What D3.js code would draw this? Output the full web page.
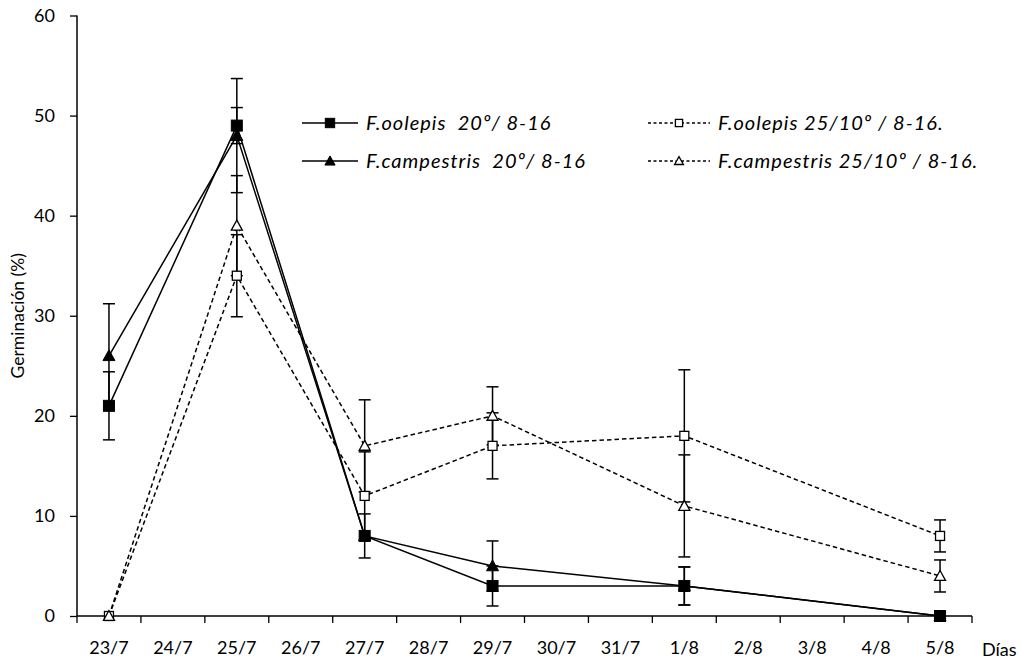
<!DOCTYPE html>
<html>
<head>
<meta charset="utf-8">
<script src="https://cdn.jsdelivr.net/npm/d3@7"></script>
<style>
  body { margin: 0; background: #fff; }
  svg { display: block; font-family: Lato, "Open Sans", sans-serif; }
</style>
</head>
<body>
<svg id="chart" width="1021" height="661"></svg>
<script>
// ---------- data ----------
const days = ['23/7', '24/7', '25/7', '26/7', '27/7', '28/7', '29/7', '30/7', '31/7', '1/8', '2/8', '3/8', '4/8', '5/8'];
const sampleDays = ['23/7', '25/7', '27/7', '29/7', '1/8', '5/8'];
const yTicks = [0, 10, 20, 30, 40, 50, 60];

const oolepis20 = [21, 49, 8, 3, 3, 0];
const oolepis20Err = [3.4, 1.8, 2.2, 2.0, 1.9, 0];
const campestris20 = [26, 48, 8, 5, 3, 0];
const campestris20Err = [5.2, 5.7, 0, 2.5, 1.9, 0];
const oolepis25 = [0, 34, 12, 17, 18, 8];
const oolepis25Err = [0, 4.1, 4.4, 3.3, 6.6, 1.6];
const campestris25 = [0, 39, 17, 20, 11, 4];
const campestris25Err = [0, 5.0, 4.6, 2.9, 5.1, 1.6];

const series = [
  { name: 'F.oolepis  20º/ 8-16', vals: oolepis20, err: oolepis20Err, marker: 'square', filled: true, dashed: false },
  { name: 'F.campestris  20º/ 8-16', vals: campestris20, err: campestris20Err, marker: 'triangle', filled: true, dashed: false },
  { name: 'F.oolepis 25/10º / 8-16.', vals: oolepis25, err: oolepis25Err, marker: 'square', filled: false, dashed: true },
  { name: 'F.campestris 25/10º / 8-16.', vals: campestris25, err: campestris25Err, marker: 'triangle', filled: false, dashed: true }
];

const svg = d3.select('#chart');
const m = { l: 77, r: 972, t: 15.5, b: 616 };
const FONT = 'Lato, sans-serif';

const x = d3.scaleBand().domain(days).range([m.l, m.r]).padding(0);
const y = d3.scaleLinear().domain([0, 60]).range([m.b, m.t]);
const cx = d => x(d) + x.bandwidth() / 2;

// ---------- axes ----------
const yAxis = svg.append('g').attr('transform', `translate(${m.l},0)`)
  .call(d3.axisLeft(y).tickValues(yTicks).tickSize(7).tickPadding(15));
yAxis.select('.domain').attr('stroke', '#000').attr('stroke-width', 1.5).attr('d', `M0,${m.t}V${m.b}`);
yAxis.selectAll('.tick line').attr('stroke', '#000').attr('stroke-width', 1.3);
yAxis.selectAll('.tick text').attr('font-size', 18).attr('fill', '#000').attr('font-family', FONT);

const xAxis = svg.append('g').attr('transform', `translate(0,${m.b})`)
  .call(d3.axisBottom(x).tickSize(0).tickPadding(25));
xAxis.select('.domain').attr('stroke', '#000').attr('stroke-width', 1.5).attr('d', `M${m.l},0H${m.r}`);
xAxis.selectAll('.tick text').attr('font-size', 18).attr('fill', '#000').attr('font-family', FONT);
// boundary ticks between categories
const bounds = days.map(d => x(d)).concat([x(days[days.length - 1]) + x.bandwidth()]);
xAxis.selectAll('line.bt').data(bounds).join('line').attr('class', 'bt')
  .attr('x1', d => d).attr('x2', d => d).attr('y1', 0).attr('y2', 7)
  .attr('stroke', '#000').attr('stroke-width', 1.3);

svg.append('text').attr('x', m.r + 10).attr('y', m.b + 40)
  .attr('font-size', 18).attr('font-family', FONT).text('Días');

svg.append('text')
  .attr('transform', `translate(24,${(m.t + m.b) / 2}) rotate(-90)`)
  .attr('text-anchor', 'middle').attr('font-size', 17.5).attr('font-family', FONT)
  .text('Germinación (%)');

// ---------- marks ----------
const line = d3.line().x(d => cx(d.day)).y(d => y(d.v));

function drawMarker(g, s, px, py, sc) {
  sc = sc === undefined ? 1 : sc;
  if (s.marker === 'square') {
    const h = (s.filled ? 5.5 : 4.5) * sc;
    g.append('rect').attr('x', px - h).attr('y', py - h).attr('width', 2 * h).attr('height', 2 * h)
      .attr('fill', s.filled ? '#000' : '#fff').attr('stroke', '#000').attr('stroke-width', s.filled ? 1 : 1.3);
  } else {
    const h = (s.filled ? 6 : 5.5) * sc;
    g.append('path')
      .attr('d', `M${px},${py - h}L${px + h},${py + h * 0.8}L${px - h},${py + h * 0.8}Z`)
      .attr('fill', s.filled ? '#000' : '#fff').attr('stroke', '#000').attr('stroke-width', s.filled ? 1 : 1.3);
  }
}

const plot = svg.append('g');
series.forEach(s => {
  const pts = sampleDays.map((d, i) => ({ day: d, v: s.vals[i] }));
  plot.append('path').datum(pts).attr('d', line).attr('fill', 'none')
    .attr('stroke', '#000').attr('stroke-width', 1.5)
    .attr('stroke-dasharray', s.dashed ? '4.5,3' : null);
});
series.forEach(s => {
  const g = plot.append('g');
  sampleDays.forEach((d, i) => {
    const e = s.err[i];
    if (!(e > 0)) return;
    const px = cx(d), y1 = y(s.vals[i] + e), y0 = y(s.vals[i] - e);
    g.append('line').attr('x1', px).attr('x2', px).attr('y1', y1).attr('y2', y0).attr('stroke', '#000').attr('stroke-width', 1.5);
    [y1, y0].forEach(yy => g.append('line').attr('x1', px - 6).attr('x2', px + 6).attr('y1', yy).attr('y2', yy)
      .attr('stroke', '#000').attr('stroke-width', 1.5));
  });
});
series.forEach(s => {
  const g = plot.append('g');
  sampleDays.forEach((d, i) => drawMarker(g, s, cx(d), y(s.vals[i])));
});

// ---------- legend ----------
const legendPos = [
  { lx: 302, ly: 123, w: 56 }, { lx: 302, ly: 161, w: 56 },
  { lx: 648, ly: 123, w: 62 }, { lx: 648, ly: 161, w: 62 }
];
series.forEach((s, i) => {
  const p = legendPos[i];
  const g = svg.append('g');
  g.append('line').attr('x1', p.lx).attr('x2', p.lx + p.w).attr('y1', p.ly).attr('y2', p.ly)
    .attr('stroke', '#000').attr('stroke-width', 1.4).attr('stroke-dasharray', s.dashed ? '3,2.5' : null);
  drawMarker(g, s, p.lx + p.w / 2, p.ly, s.dashed ? 0.8 : 0.85);
  g.append('text').attr('x', p.lx + p.w + 8).attr('y', p.ly + 7)
    .attr('font-size', 20).attr('font-style', 'italic').attr('font-family', FONT)
    .attr('letter-spacing', 1).style('white-space', 'pre').text(s.name);
});
</script>
</body>
</html>
